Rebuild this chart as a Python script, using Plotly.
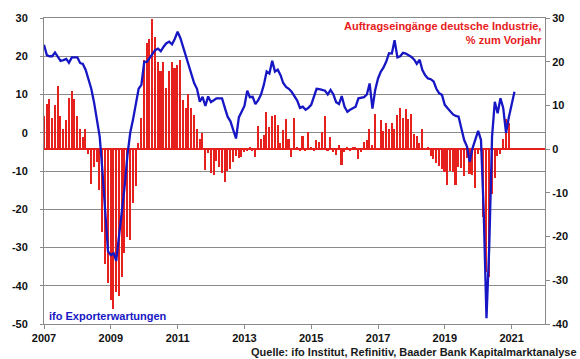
import plotly.graph_objects as go
import pandas as pd

# ---------------- data ----------------
start_month = "2007-01-01"

# Auftragseingänge deutsche Industrie, % zum Vorjahr (right axis), monthly from Jan 2007
orders_yoy = [
    7.6, 10.3, 11.4, 7.2, 10.2, 14.5, 7.6, 4.7, 6.6, 11.8, 13.3, 11.4,          # 2007
    7.6, 4.6, 2.8, 4.6, -1.0, -7.9, -4.0, -3.0, -9.4, -18.9, -26.2, -30.6,      # 2008
    -34.4, -36.5, -32.7, -33.6, -29.2, -23.7, -20.1, -20.8, -12.3, -8.5, 1.4, 7.2,  # 2009
    20.4, 24.3, 25.1, 29.7, 25.6, 20.0, 17.9, 20.0, 14.1, 17.9, 20.0, 18.5,     # 2010
    19.2, 20.4, 11.2, 9.5, 12.6, 9.5, 7.8, 4.7, 2.4, 3.6, -4.8, -0.8,           # 2011
    -5.5, -5.9, -2.7, -4.0, -5.5, -7.5, -5.0, -4.5, -3.0, -1.5, -2.1, -1.8,     # 2012
    -0.6, -0.3, 0.4, -0.4, -1.8, 5.3, 2.4, 3.2, 8.4, 5.1, 7.6, 7.8,             # 2013
    5.5, 1.5, 4.3, 6.9, 2.4, -1.8, 7.2, 0.5, -0.2, 3.0, -0.3, 4.0,              # 2014
    0.4, -0.5, 2.2, 1.6, 4.0, 7.6, -0.5, 2.7, -0.7, -1.3, 0.9, -3.7,            # 2015
    -0.6, 0.6, -0.3, 0.4, 0.6, -2.2, -0.6, 1.7, 2.0, 4.6, 1.0, 8.0,             # 2016
    0.3, 6.6, 4.1, 5.9, 4.7, 6.0, 4.7, 7.9, 9.5, 7.2, 9.1, 7.0,                 # 2017
    8.0, 3.5, 3.0, 1.5, 4.5, 0.0, 0.4, -1.5, -2.2, -3.1, -3.9, -4.6,            # 2018
    -5.2, -8.2, -5.0, -5.2, -8.2, -4.0, -4.2, -6.2, -2.1, -5.6, -5.9, -9.0,     # 2019
    -1.0, -0.4, -15.5, -28.0, -29.3, -10.2, -6.7, -1.5, -1.2, 2.4, 6.8, 5.9,    # 2020
]

# ifo Exporterwartungen (left axis), monthly from Jan 2007
ifo_export = [
    23.0, 20.3, 20.0, 20.0, 21.0, 19.8, 18.8, 19.0, 19.3, 18.3, 19.7, 19.7,     # 2007
    19.7, 18.2, 18.0, 16.4, 14.2, 11.5, 8.0, 4.0, -1.0, -10.0, -22.0, -31.0,    # 2008
    -32.0, -31.5, -33.5, -27.0, -21.0, -14.0, -6.0, 0.0, 3.5, 8.0, 11.5, 12.5,  # 2009
    18.5, 18.6, 19.5, 20.5, 21.6, 22.0, 21.3, 22.5, 23.4, 23.8, 23.1, 24.5,     # 2010
    26.4, 24.7, 22.5, 20.0, 18.0, 15.0, 13.0, 11.5, 8.1, 9.4, 7.0, 9.5,         # 2011
    8.0, 8.5, 9.0, 9.0, 9.0, 6.5, 4.2, 3.0, 1.0, -1.5, 4.0, 5.5,                # 2012
    7.0, 11.0, 9.3, 9.4, 7.5, 8.5, 10.0, 12.5, 16.0, 15.5, 18.8, 16.0,          # 2013
    16.5, 15.0, 13.0, 12.0, 11.5, 10.7, 9.5, 8.4, 6.5, 6.8, 6.0, 6.5,           # 2014
    7.3, 9.4, 11.5, 11.4, 11.3, 11.0, 10.0, 11.2, 10.0, 8.0, 7.5, 9.6,          # 2015
    6.8, 5.5, 6.0, 6.3, 6.8, 9.0, 9.2, 9.3, 10.0, 12.9, 6.3, 11.2,              # 2016
    14.2, 16.0, 17.0, 18.6, 20.8, 20.7, 24.2, 19.7, 20.0, 20.9, 20.7, 20.3,     # 2017
    19.8, 19.1, 18.0, 19.1, 16.4, 15.0, 14.2, 14.0, 13.4, 11.5, 10.3, 9.9,      # 2018
    7.3, 6.4, 5.5, 4.8, 4.4, 4.2, 1.2, -1.9, -3.6, -7.6, -4.0, -1.5,            # 2019
    0.5, -1.9, -20.0, -48.5, -30.0, -1.0, 8.1, 5.1, 9.0, 6.5, 0.0, 4.0,         # 2020
    7.3, 10.7,                                                                  # 2021
]

year_ticks = ["2007", "2009", "2011", "2013", "2015", "2017", "2019", "2021"]
left_ticks = [-50, -40, -30, -20, -10, 0, 10, 20, 30]
right_ticks = [-40, -30, -20, -10, 0, 10, 20, 30]

orders_label = "Auftragseingänge deutsche Industrie,<br>% zum Vorjahr"
ifo_label = "ifo Exporterwartungen"
source_label = "Quelle: ifo Institut, Refinitiv, Baader Bank Kapitalmarktanalyse"

# ---------------- figure ----------------
RED = "#e6201c"
BLUE = "#1616c4"
GRID = "#8a8a8a"
FONT = "Liberation Sans"

months_orders = pd.date_range(start_month, periods=len(orders_yoy), freq="MS")
months_ifo = pd.date_range(start_month, periods=len(ifo_export), freq="MS")

fig = go.Figure()
fig.add_trace(go.Bar(
    x=months_orders, y=orders_yoy, yaxis="y",
    marker=dict(color=RED, line=dict(width=0)),
    width=1.5e9, name="Auftragseingänge",
))
fig.add_trace(go.Scatter(
    x=months_ifo, y=ifo_export, yaxis="y2", mode="lines",
    line=dict(color=BLUE, width=2.3), name="ifo Exporterwartungen",
))

tickfont = dict(family=FONT, size=11, color="#111111", weight="bold")

fig.update_layout(
    width=580, height=359,
    margin=dict(l=29, r=33, t=18, b=35),
    paper_bgcolor="white", plot_bgcolor="white",
    showlegend=False,
    bargap=0,
    xaxis=dict(
        type="date", range=["2007-01-01", "2022-01-01"],
        tickvals=[f"{y}-01-01" for y in year_ticks], ticktext=year_ticks,
        ticks="outside", ticklen=4, tickcolor=GRID,
        showline=True, linecolor=GRID, linewidth=1, mirror=True,
        showgrid=False, zeroline=False, tickfont=tickfont,
    ),
    yaxis=dict(
        side="right", range=[-40, 30], tickvals=right_ticks,
        ticktext=[str(v) for v in right_ticks],
        ticks="outside", ticklen=4, tickcolor=GRID,
        showline=True, linecolor=GRID, linewidth=1,
        showgrid=False, zeroline=True, zerolinecolor=RED, zerolinewidth=2,
        tickfont=tickfont,
    ),
    yaxis2=dict(
        side="left", overlaying="y", range=[-50, 30], tickvals=left_ticks,
        ticktext=[str(v) for v in left_ticks],
        ticks="outside", ticklen=3, tickcolor=GRID,
        showline=True, linecolor=GRID, linewidth=1,
        showgrid=True, gridcolor=GRID, gridwidth=1, zeroline=False,
        tickfont=tickfont, ticklabelstandoff=10,
    ),
    annotations=[
        dict(text=orders_label, xref="paper", yref="paper",
             x=0.998, y=0.952, xanchor="right", yanchor="middle", align="right",
             showarrow=False, font=dict(family=FONT, size=11, color=RED, weight="bold")),
        dict(text=ifo_label, xref="paper", yref="paper",
             x=0.006, y=0.027, xanchor="left", yanchor="middle", align="left",
             showarrow=False, font=dict(family=FONT, size=11, color=BLUE, weight="bold")),
        dict(text=source_label, xref="paper", yref="paper",
             x=1.068, y=-0.09, xanchor="right", yanchor="middle", align="right",
             showarrow=False, font=dict(family=FONT, size=11, color="#1a1a1a", weight="bold")),
    ],
)

fig.write_html("out.html", config={"displayModeBar": False},
               post_script="document.body.style.margin='0';")
